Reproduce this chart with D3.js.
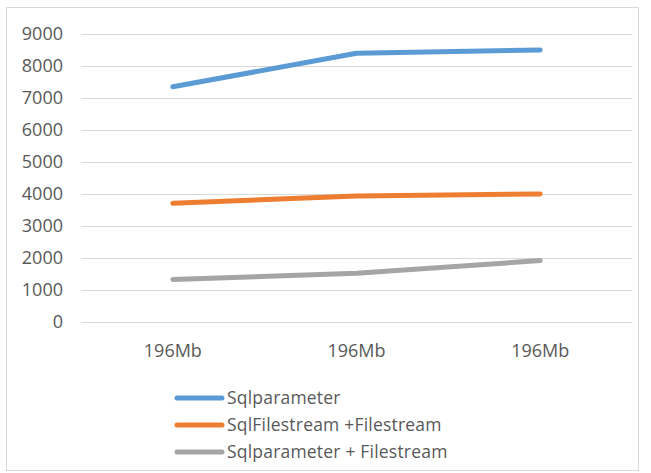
<!DOCTYPE html>
<html>
<head>
<meta charset="utf-8">
<script src="https://cdn.jsdelivr.net/npm/d3@7/dist/d3.min.js"></script>
<style>
  html, body { margin: 0; padding: 0; background: #fff; }
  svg { display: block; }
  text { font-family: "Open Sans", sans-serif; fill: #595959; }
</style>
</head>
<body>
<svg id="chart" width="651" height="473"></svg>
<script>
// Categories along the x axis
const categories = ["196Mb", "196Mb", "196Mb"];

// Series names and values
const seriesNames = ["Sqlparameter", "SqlFilestream +Filestream", "Sqlparameter + Filestream"];
const sqlparameter = [7350, 8400, 8500];
const sqlFilestreamFilestream = [3710, 3940, 4000];
const sqlparameterFilestream = [1330, 1520, 1920];
const seriesColors = ["#5b9bd5", "#ed7d31", "#a5a5a5"];

// Value axis ticks
const yTicks = [0, 1000, 2000, 3000, 4000, 5000, 6000, 7000, 8000, 9000];

const seriesValues = [sqlparameter, sqlFilestreamFilestream, sqlparameterFilestream];

const svg = d3.select("#chart");

// Outer chart frame
svg.append("rect")
  .attr("x", 6.5).attr("y", 7.5)
  .attr("width", 632).attr("height", 463)
  .attr("fill", "#fff")
  .attr("stroke", "#d9d9d9")
  .attr("stroke-width", 1);

const plot = { left: 81, right: 632, top: 34, bottom: 322 };

const x = d3.scaleBand()
  .domain(d3.range(categories.length))
  .range([plot.left, plot.right]);

const y = d3.scaleLinear()
  .domain([0, 9000])
  .range([plot.bottom, plot.top]);

// Horizontal gridlines with value labels
const yAxis = d3.axisLeft(y)
  .tickValues(yTicks)
  .tickSize(-(plot.right - plot.left))
  .tickPadding(18)
  .tickFormat(d3.format("d"));

const yG = svg.append("g")
  .attr("transform", `translate(${plot.left},0)`)
  .call(yAxis);
yG.select(".domain").remove();
yG.selectAll(".tick line").attr("stroke", "#d9d9d9").attr("stroke-width", 1);
yG.selectAll(".tick text")
  .attr("font-size", 18)
  .attr("font-family", "Open Sans, sans-serif")
  .attr("fill", "#595959");

// Category labels
const xAxis = d3.axisBottom(x)
  .tickSize(0)
  .tickPadding(22)
  .tickFormat(i => categories[i]);
const xG = svg.append("g")
  .attr("transform", `translate(0,${plot.bottom})`)
  .call(xAxis);
xG.select(".domain").remove();
xG.selectAll(".tick text")
  .attr("font-size", 18)
  .attr("font-family", "Open Sans, sans-serif")
  .attr("fill", "#595959");

// Series lines
const line = d3.line()
  .x((d, i) => x(i) + x.bandwidth() / 2)
  .y(d => y(d));

svg.append("g").selectAll("path")
  .data(seriesValues)
  .join("path")
  .attr("d", line)
  .attr("fill", "none")
  .attr("stroke", (d, i) => seriesColors[i])
  .attr("stroke-width", 5)
  .attr("stroke-linecap", "round")
  .attr("stroke-linejoin", "round");

// Legend
const legend = svg.append("g");
const legendRows = legend.selectAll("g")
  .data(seriesNames)
  .join("g")
  .attr("transform", (d, i) => `translate(177,${398 + i * 27})`);
legendRows.append("line")
  .attr("x1", 0).attr("x2", 45)
  .attr("y1", 0).attr("y2", 0)
  .attr("stroke", (d, i) => seriesColors[i])
  .attr("stroke-width", 5)
  .attr("stroke-linecap", "round");
legendRows.append("text")
  .attr("x", 50)
  .attr("y", 0)
  .attr("dy", "0.35em")
  .attr("font-size", 17.5)
  .attr("letter-spacing", 0.2)
  .text(d => d);
</script>
</body>
</html>
